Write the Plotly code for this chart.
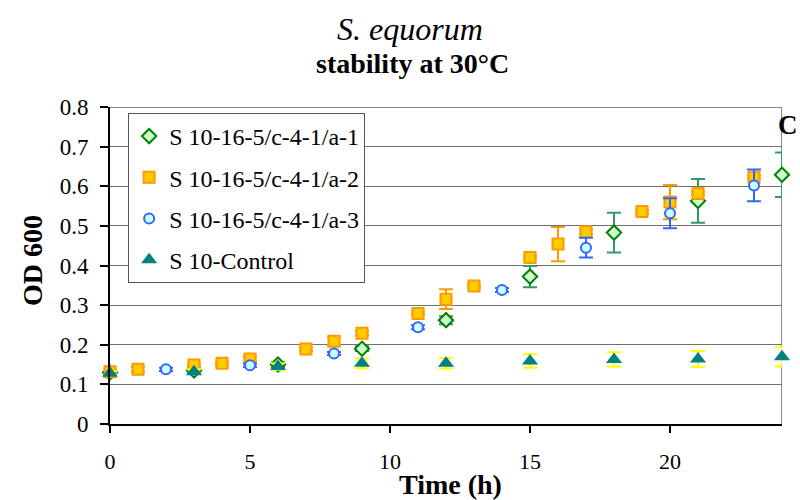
import plotly.graph_objects as go

# ---- data ----
names = ["S 10-16-5/c-4-1/a-1", "S 10-16-5/c-4-1/a-2", "S 10-16-5/c-4-1/a-3", "S 10-Control"]

a1_x = [0, 3, 6, 9, 12, 15, 18, 21, 24]
a1_y = [0.130, 0.135, 0.150, 0.190, 0.262, 0.372, 0.483, 0.563, 0.629]
a1_e = [0.005, 0.005, 0.006, 0.006, 0.010, 0.027, 0.050, 0.055, 0.056]

a2_x = [0, 1, 3, 4, 5, 7, 8, 9, 11, 12, 13, 15, 16, 17, 19, 20, 21, 23]
a2_y = [0.132, 0.138, 0.149, 0.153, 0.164, 0.189, 0.209, 0.229, 0.279, 0.315,
        0.348, 0.420, 0.454, 0.485, 0.536, 0.560, 0.582, 0.623]
a2_e = [0.004, 0.006, 0.004, 0.004, 0.006, 0.004, 0.010, 0.005, 0.004, 0.025,
        0.004, 0.004, 0.043, 0.006, 0.004, 0.043, 0.004, 0.004]

a3_x = [2, 5, 8, 11, 14, 17, 20, 23]
a3_y = [0.138, 0.148, 0.178, 0.244, 0.338, 0.445, 0.532, 0.602]
a3_e = [0.004, 0.004, 0.004, 0.005, 0.005, 0.025, 0.038, 0.040]

c_x = [0, 3, 6, 9, 12, 15, 18, 21, 24]
c_y = [0.128, 0.132, 0.145, 0.153, 0.153, 0.159, 0.163, 0.164, 0.170]
c_e = [0.005, 0.006, 0.008, 0.012, 0.013, 0.017, 0.018, 0.020, 0.025]

x_ticks = [0, 5, 10, 15, 20]
y_ticks = [0, 0.1, 0.2, 0.3, 0.4, 0.5, 0.6, 0.7, 0.8]

FONT = "Liberation Serif, Times New Roman, Times, serif"

fig = go.Figure()

def add(x, y, e, name, symbol, size, fill, line, ecolor, grp):
    fig.add_trace(go.Scatter(
        x=x, y=y, mode="markers", name=name, legendgroup=grp,
        marker=dict(symbol=symbol, size=size, color=fill,
                    line=dict(color=line, width=2 if line != fill else 0)),
        error_y=dict(type="data", array=e, visible=True, color=ecolor,
                     thickness=2, width=7),
        cliponaxis=False,
    ))

add(a1_x, a1_y, a1_e, names[0], "diamond", 11, "#CCFFCC", "#008000", "#339966", "g1")
add(a2_x, a2_y, a2_e, names[1], "square", 11, "#FFCC00", "#FF9900", "#FF9900", "g2")
add(a3_x, a3_y, a3_e, names[2], "circle", 10, "#CCFFFF", "#3366FF", "#3366FF", "g3")
add(c_x, c_y, c_e, names[3], "triangle-up", 14, "#008080", "#008080", "#FFFF00", "g4")

fig.update_layout(
    width=800, height=500,
    margin=dict(l=110, r=18, t=107, b=76),
    paper_bgcolor="white", plot_bgcolor="white",
    font=dict(family=FONT, color="black", size=20),
    showlegend=True,
    legend=dict(
        x=0.027, y=0.981, xanchor="left", yanchor="top",
        bgcolor="white", bordercolor="#555555", borderwidth=1,
        font=dict(family=FONT, size=24, color="black"),
        tracegroupgap=7, traceorder="grouped",
    ),
    xaxis=dict(
        range=[0, 24], tickvals=x_ticks, showgrid=False, zeroline=False,
        showline=True, linecolor="black", linewidth=2,
        ticks="outside", ticklen=7, tickwidth=1.5, tickcolor="black",
        tickfont=dict(family=FONT, size=22), ticklabelstandoff=10,
    ),
    yaxis=dict(
        range=[0, 0.8], tickvals=y_ticks, showgrid=True, gridcolor="#707070",
        gridwidth=1.2, zeroline=False,
        showline=True, linecolor="black", linewidth=2,
        ticks="outside", ticklen=8, tickwidth=1.5, tickcolor="black",
        tickfont=dict(family=FONT, size=23), ticklabelstandoff=7,
    ),
    shapes=[
        dict(type="line", xref="x", yref="y", x0=24, x1=24, y0=0, y1=0.8,
             line=dict(color="#888888", width=2), layer="below"),
        dict(type="line", xref="x", yref="y", x0=0, x1=24, y0=0.8, y1=0.8,
             line=dict(color="#888888", width=2), layer="below"),
    ],
    annotations=[
        dict(text="<i>S. equorum</i>", xref="paper", yref="paper",
             x=(410 - 110) / 672, y=(424 - 29) / 317, xanchor="center", yanchor="middle",
             showarrow=False, font=dict(family=FONT, size=32)),
        dict(text="<b>stability at 30°C</b>", xref="paper", yref="paper",
             x=(412 - 110) / 672, y=(424 - 64) / 317, xanchor="center", yanchor="middle",
             showarrow=False, font=dict(family=FONT, size=28)),
        dict(text="<b>OD 600</b>", xref="paper", yref="paper",
             x=(32 - 110) / 672, y=(424 - 261) / 317, xanchor="center", yanchor="middle",
             textangle=-90, showarrow=False, font=dict(family=FONT, size=28)),
        dict(text="<b>Time (h)</b>", xref="paper", yref="paper",
             x=(450 - 110) / 672, y=(424 - 484) / 317, xanchor="center", yanchor="middle",
             showarrow=False, font=dict(family=FONT, size=28)),
        dict(text="<b>C</b>", xref="paper", yref="paper",
             x=(776 - 110) / 672, y=(424 - 125) / 317, xanchor="left", yanchor="middle",
             showarrow=False, font=dict(family=FONT, size=27)),
    ],
)

fig.write_html("out.html")
